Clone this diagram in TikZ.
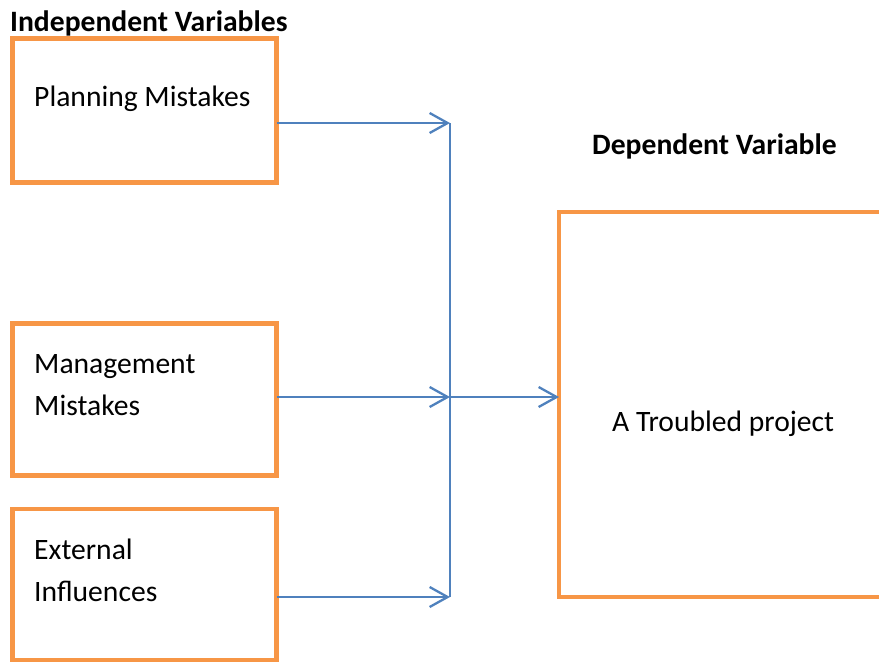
\documentclass[tikz,border=0pt]{standalone}
\usepackage{fontspec}
\setmainfont{Carlito}
\usetikzlibrary{arrows.meta}
\definecolor{boxorange}{HTML}{F79646}
\definecolor{arrowblue}{HTML}{4F81BD}
\begin{document}
\begin{tikzpicture}[x=1pt,y=-1pt,
  varbox/.style={draw=boxorange,line width=4.5pt,rectangle,inner sep=0pt,outer sep=0pt,anchor=north west},
  lbl/.style={anchor=base west,inner sep=0pt,font=\fontsize{29.6}{35}\selectfont},
  head/.style={anchor=base west,inner sep=0pt,font=\fontsize{29.6}{35}\selectfont\bfseries},
  conn/.style={draw=arrowblue,line width=2.3pt},
  arr/.style={conn,-{Straight Barb[length=18pt,width=20pt,line width=2.3pt]}}
]
\clip (0,0) rectangle (879,662);
\useasboundingbox (0,0) rectangle (879,662);
% boxes
\node[varbox,minimum width=264pt,minimum height=144pt] (b1) at (12.5,38.5) {};
\node[varbox,minimum width=264pt,minimum height=152pt] (b2) at (12.5,323.5) {};
\node[varbox,minimum width=264pt,minimum height=151pt] (b3) at (12.5,509) {};
\node[varbox,minimum width=340pt,minimum height=385pt] (dv) at (559,212) {};
% texts
\node[head] (t0) at (10,31) {Independent Variables};
\node[head] (t4) at (592,154.3) {Dependent Variable};
\node[lbl] (t1) at (34,106) {Planning Mistakes};
\node[lbl] (t2a) at (34,373) {Management};
\node[lbl] (t2b) at (34,415) {Mistakes};
\node[lbl] (t3a) at (34,559) {External};
\node[lbl] (t3b) at (34,601) {Influences};
\node[lbl] (t5) at (612,431) {A Troubled project};
% connectors
\coordinate (j1) at (450,123);
\coordinate (j2) at (450,397);
\coordinate (j3) at (450,597);
\draw[conn] (j1) -- (j3);
\draw[arr] (b1.east |- j1) -- (j1);
\draw[arr] (b2.east |- j2) -- (j2);
\draw[arr] (b3.east |- j3) -- (j3);
\draw[arr] (j2) -- (dv.west |- j2);
\end{tikzpicture}
\end{document}
